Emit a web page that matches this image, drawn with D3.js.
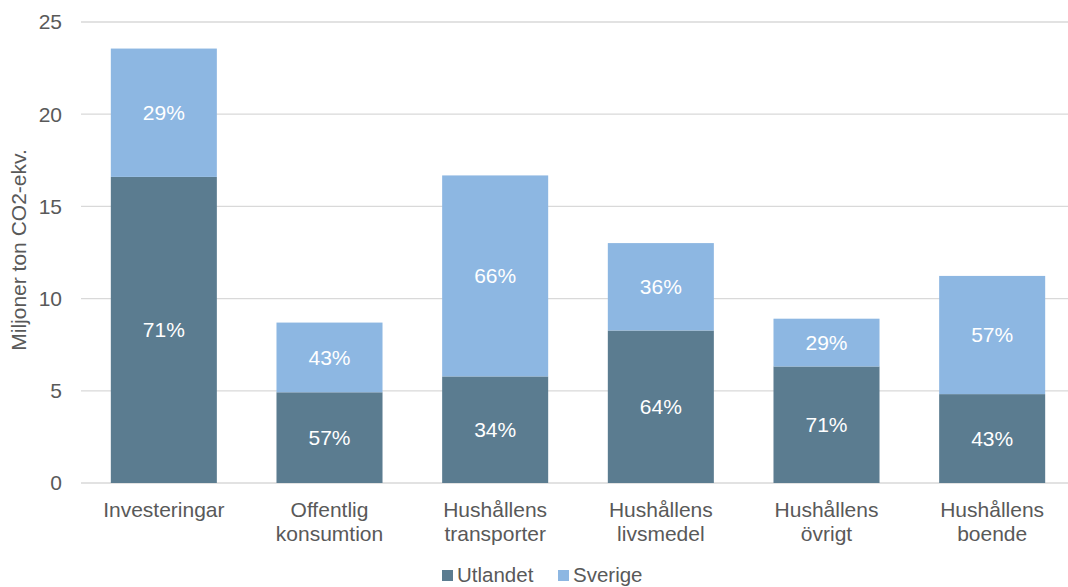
<!DOCTYPE html>
<html><head><meta charset="utf-8">
<script src="https://cdn.jsdelivr.net/npm/d3@7"></script>
<style>body{margin:0;background:#fff}svg{display:block}text{font-family:"Liberation Sans",Arial,sans-serif}</style>
</head><body>
<svg id="c" width="1068" height="587"></svg>
<script>
const categories = [["Investeringar"],["Offentlig","konsumtion"],["Hushållens","transporter"],["Hushållens","livsmedel"],["Hushållens","övrigt"],["Hushållens","boende"]];
const utlandet = [16.6, 4.92, 5.78, 8.27, 6.32, 4.82];
const sverige = [6.96, 3.78, 10.9, 4.74, 2.59, 6.41];
const utlPct = ["71%","57%","34%","64%","71%","43%"];
const svePct = ["29%","43%","66%","36%","29%","57%"];
const yTicks = [0,5,10,15,20,25];
const seriesNames = ["Utlandet","Sverige"];
const colors = ["#5b7c90","#8db7e2"];

const svg = d3.select("#c");
const x = d3.scaleBand().domain(d3.range(categories.length)).range([81,1075]).paddingInner(0.36).paddingOuter(0.18);
const y = d3.scaleLinear().domain([0,25]).range([483,22]);

const g = svg.append("g");
g.selectAll("line.grid").data(yTicks).join("line")
  .attr("x1",81).attr("x2",1076).attr("y1",d=>y(d)).attr("y2",d=>y(d))
  .attr("stroke","#d9d9d9").attr("stroke-width",1.3);
g.selectAll("text.yt").data(yTicks).join("text")
  .attr("x",62).attr("y",d=>y(d)).attr("dy","0.35em").attr("text-anchor","end")
  .attr("font-size",21).attr("fill","#595959").text(d=>d);

const data = categories.map((c,i)=>({i,u:utlandet[i],s:sverige[i]}));
g.selectAll("rect.u").data(data).join("rect")
  .attr("x",d=>x(d.i)).attr("width",x.bandwidth())
  .attr("y",d=>y(d.u)).attr("height",d=>y(0)-y(d.u)).attr("fill",colors[0]);
g.selectAll("rect.s").data(data).join("rect")
  .attr("x",d=>x(d.i)).attr("width",x.bandwidth())
  .attr("y",d=>y(d.u+d.s)).attr("height",d=>y(d.u)-y(d.u+d.s)).attr("fill",colors[1]);
g.selectAll("text.up").data(data).join("text")
  .attr("x",d=>x(d.i)+x.bandwidth()/2).attr("y",d=>y(d.u/2)).attr("dy","0.35em")
  .attr("text-anchor","middle").attr("font-size",21).attr("fill","#fff").text(d=>utlPct[d.i]);
g.selectAll("text.sp").data(data).join("text")
  .attr("x",d=>x(d.i)+x.bandwidth()/2).attr("y",d=>y(d.u+d.s/2)).attr("dy","0.35em")
  .attr("text-anchor","middle").attr("font-size",21).attr("fill","#fff").text(d=>svePct[d.i]);

const cl = g.selectAll("text.cat").data(categories).join("text")
  .attr("x",(d,i)=>x(i)+x.bandwidth()/2).attr("y",517)
  .attr("text-anchor","middle").attr("font-size",21).attr("fill","#595959");
cl.selectAll("tspan").data(d=>d).join("tspan")
  .attr("x",function(){return this.parentNode.getAttribute("x");})
  .attr("dy",(d,j)=>j===0?0:23.5).text(d=>d);

svg.append("text").attr("transform","translate(26,250) rotate(-90)")
  .attr("text-anchor","middle").attr("font-size",21).attr("fill","#595959")
  .text("Miljoner ton CO2-ekv.");

const leg = svg.append("g");
const lx = [442,558];
seriesNames.forEach((n,k)=>{
  leg.append("rect").attr("x",lx[k]).attr("y",570).attr("width",11).attr("height",11).attr("fill",colors[k]);
  leg.append("text").attr("x",lx[k]+15).attr("y",582).attr("font-size",20.5).attr("fill","#595959").text(n);
});
</script>
</body></html>
